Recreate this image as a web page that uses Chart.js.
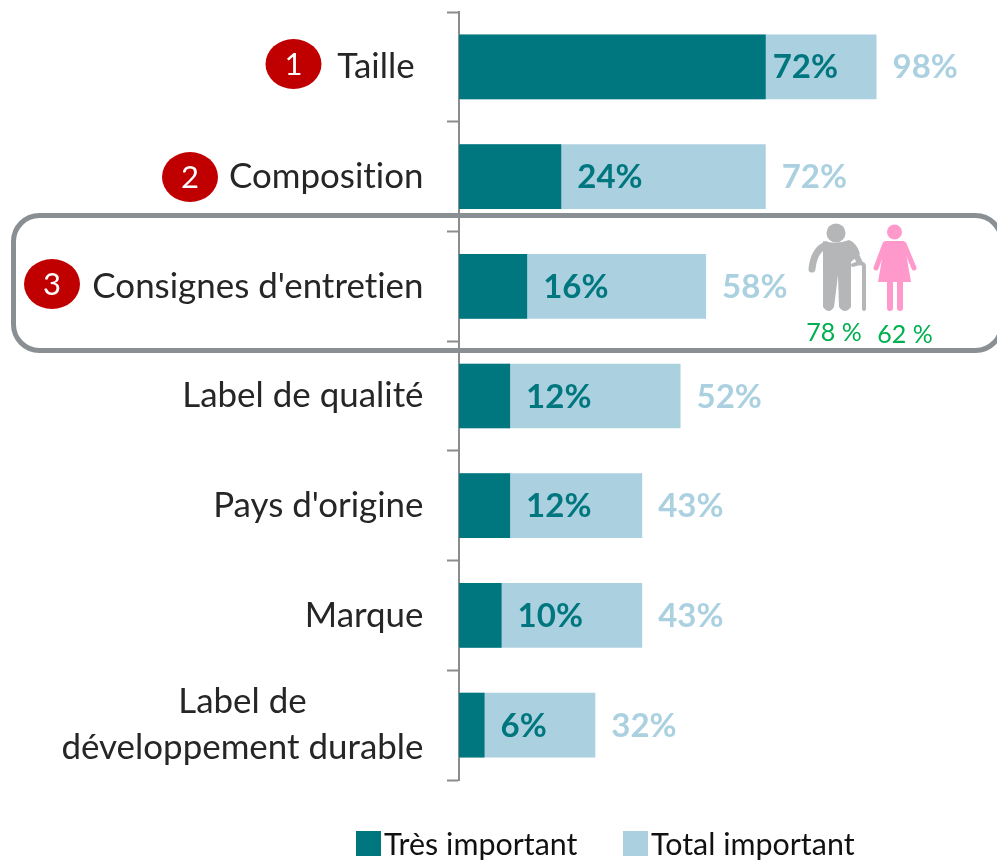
<!DOCTYPE html>
<html lang="fr">
<head>
<meta charset="utf-8">
<title>Critères importants</title>
<script src="https://cdn.jsdelivr.net/npm/chart.js@4"></script>
<style>
   body { margin: 0; background: #fff; }
   canvas { display: block; }
</style>
</head>
<body>
<canvas id="myChart" width="997" height="860"></canvas>
<script>
const categories = ['Taille ', 'Composition', "Consignes d'entretien", 'Label de qualité', "Pays d'origine", 'Marque', ['Label de', 'développement durable']];
const tresImportant = [72, 24, 16, 12, 12, 10, 6];
const totalImportant = [98, 72, 58, 52, 43, 43, 32];
const seniorsScore = '78 %';
const femmesScore = '62 %';

const DARK = '#00767f';
const LIGHT = '#abd1e0';
const FONT = 'Lato, "Open Sans", sans-serif';

function ellipseBadge(ctx, cx, cy, num) {
   ctx.fillStyle = '#c00000';
   ctx.beginPath();
   ctx.ellipse(cx, cy, 28, 25, 0, 0, Math.PI * 2);
   ctx.fill();
   ctx.fillStyle = '#fff';
   ctx.font = '31px ' + FONT;
   ctx.textAlign = 'center';
   ctx.textBaseline = 'middle';
   ctx.fillText(num, cx, cy + 1);
}

function drawMan(ctx) {
   ctx.fillStyle = '#b5b6b8';
   ctx.strokeStyle = '#b5b6b8';
   ctx.lineCap = 'round';
   ctx.lineJoin = 'round';
   ctx.beginPath();
   ctx.arc(836, 233, 9.5, 0, Math.PI * 2);
   ctx.fill();
   // body and legs
   ctx.beginPath();
   ctx.moveTo(823, 241);
   ctx.quadraticCurveTo(836, 245, 849, 240);
   ctx.quadraticCurveTo(857, 243, 860, 254);
   ctx.lineTo(851, 262);
   ctx.lineTo(851, 307);
   ctx.quadraticCurveTo(845, 315, 839, 307);
   ctx.lineTo(838, 275);
   ctx.lineTo(834, 307);
   ctx.quadraticCurveTo(829, 315, 823, 307);
   ctx.closePath();
   ctx.fill();
   // left arm
   ctx.lineWidth = 7;
   ctx.beginPath();
   ctx.moveTo(826, 245);
   ctx.quadraticCurveTo(814, 250, 812, 269);
   ctx.stroke();
   // right arm
   ctx.lineWidth = 6;
   ctx.beginPath();
   ctx.moveTo(851, 245);
   ctx.lineTo(859, 261);
   ctx.stroke();
   // cane
   ctx.lineWidth = 4;
   ctx.beginPath();
   ctx.moveTo(864, 309);
   ctx.lineTo(864, 266);
   ctx.quadraticCurveTo(863, 261, 853, 265);
   ctx.stroke();
}

function drawWoman(ctx) {
   ctx.fillStyle = '#ff99cc';
   ctx.strokeStyle = '#ff99cc';
   ctx.lineCap = 'round';
   ctx.beginPath();
   ctx.arc(894.5, 232, 7.5, 0, Math.PI * 2);
   ctx.fill();
   // dress
   ctx.beginPath();
   ctx.moveTo(885, 241);
   ctx.lineTo(904, 241);
   ctx.lineTo(911, 282);
   ctx.lineTo(878, 282);
   ctx.closePath();
   ctx.fill();
   // arms
   ctx.lineWidth = 5;
   ctx.beginPath();
   ctx.moveTo(885, 244);
   ctx.lineTo(876, 268);
   ctx.moveTo(904, 244);
   ctx.lineTo(914, 268);
   ctx.stroke();
   // legs
   ctx.beginPath();
   ctx.lineWidth = 6;
   ctx.moveTo(890, 282);
   ctx.lineTo(890, 308);
   ctx.moveTo(900, 282);
   ctx.lineTo(900, 308);
   ctx.stroke();
}

const overlayPlugin = {
   id: 'overlay',
   afterDraw(chart) {
      const ctx = chart.ctx;
      const yScale = chart.scales.y;
      ctx.save();
      // a tiny spacing switches off the Lato "ti" ligature
      ctx.letterSpacing = '0.01px';

      // category labels, the two-line one is centred on itself
      ctx.fillStyle = '#262626';
      ctx.font = '34.9px ' + FONT;
      ctx.textBaseline = 'middle';
      categories.forEach((label, i) => {
         const y = yScale.getPixelForTick(i);
         if (Array.isArray(label)) {
            const w = Math.max(...label.map((l) => ctx.measureText(l).width));
            ctx.textAlign = 'center';
            ctx.fillText(label[0], 423.5 - w / 2, y - 23);
            ctx.fillText(label[1], 423.5 - w / 2, y + 23);
         } else {
            ctx.textAlign = 'right';
            ctx.fillText(label, 423.5, y);
         }
      });

      // value labels
      ctx.font = 'bold 33px ' + FONT;
      ctx.textAlign = 'left';
      const metaTotal = chart.getDatasetMeta(1);
      const metaDark = chart.getDatasetMeta(0);
      totalImportant.forEach((v, i) => {
         const bar = metaTotal.data[i];
         ctx.fillStyle = LIGHT;
         ctx.fillText(v + '%', bar.x + 16, bar.y + 1);
      });
      tresImportant.forEach((v, i) => {
         const bar = metaDark.data[i];
         ctx.fillStyle = DARK;
         ctx.fillText(v + '%', bar.x + (v > 50 ? 7 : 16), bar.y + 1);
      });

      // frame around the third row
      ctx.strokeStyle = '#8a8f93';
      ctx.lineWidth = 5;
      ctx.beginPath();
      ctx.roundRect(13.5, 215.5, 988, 135, 26);
      ctx.stroke();

      ellipseBadge(ctx, 293.5, 64, '1');
      ellipseBadge(ctx, 190, 177, '2');
      ellipseBadge(ctx, 52, 284, '3');

      drawMan(ctx);
      drawWoman(ctx);
      ctx.fillStyle = '#00b050';
      ctx.font = '25px ' + FONT;
      ctx.textAlign = 'center';
      ctx.fillText(seniorsScore, 834, 333);
      ctx.fillText(femmesScore, 905, 335);

      // legend
      ctx.textAlign = 'left';
      ctx.font = '30.4px ' + FONT;
      [[356, 0], [623, 1]].forEach(([x, idx]) => {
         const ds = chart.data.datasets[idx];
         ctx.fillStyle = ds.backgroundColor;
         ctx.fillRect(x, 831, 25, 25);
         ctx.fillStyle = '#111';
         ctx.fillText(ds.label, x + 28, 845);
      });
      ctx.restore();
   },
};

new Chart(document.getElementById('myChart').getContext('2d'), {
   type: 'bar',
   data: {
      labels: categories,
      datasets: [
         { label: 'Très important', data: tresImportant, backgroundColor: DARK, order: 1 },
         { label: 'Total important', data: totalImportant, backgroundColor: LIGHT, order: 2 },
      ],
   },
   options: {
      indexAxis: 'y',
      responsive: false,
      animation: false,
      barPercentage: 0.59,
      categoryPercentage: 1,
      layout: { padding: { top: 12, bottom: 80, right: 112 } },
      plugins: {
         legend: { display: false },
         tooltip: { enabled: false },
      },
      scales: {
         x: {
            display: false,
            min: 0,
            max: 100,
            stacked: false,
         },
         y: {
            stacked: true,
            afterFit: (scale) => { scale.width = 459; },
            ticks: { display: false },
            border: { color: '#8c8c8c', width: 2 },
            grid: {
               offset: true,
               drawOnChartArea: false,
               tickLength: 12,
               tickWidth: 2,
               tickColor: '#8c8c8c',
            },
         },
      },
   },
   plugins: [overlayPlugin],
});
</script>
</body>
</html>
